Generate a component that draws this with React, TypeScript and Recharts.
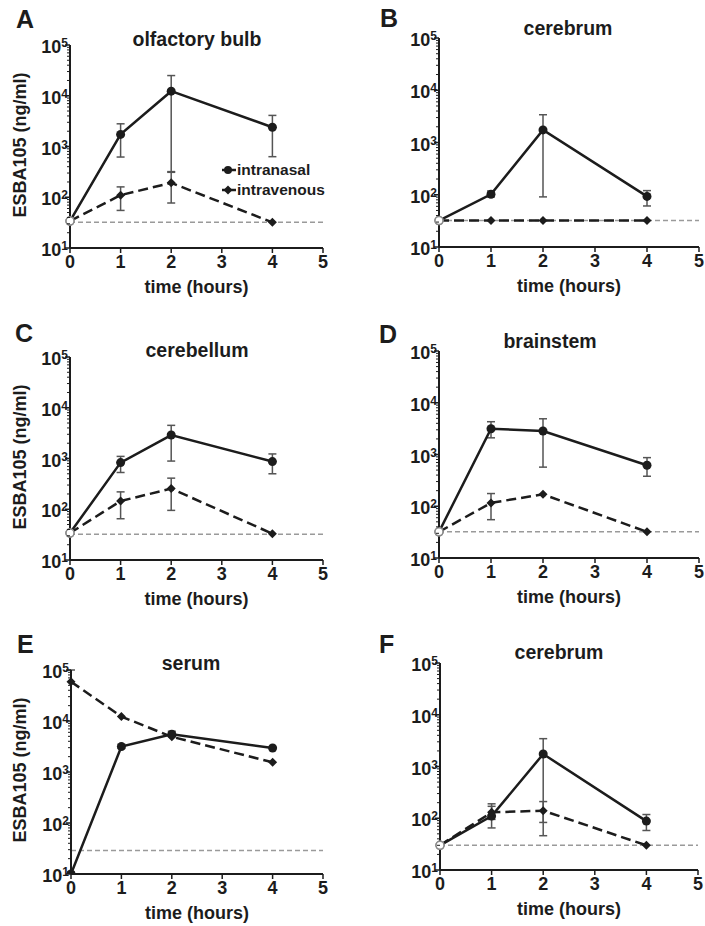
import { LineChart, Line, XAxis, YAxis, ErrorBar, ReferenceLine, Legend } from 'recharts';

const FONT = '"Liberation Sans", Arial, Helvetica, sans-serif';
const INK = '#1c1c1c';

const hours = [0, 1, 2, 4];
const xTicks = [0, 1, 2, 3, 4, 5];
const decades = [10, 100, 1000, 10000, 100000];

// A - olfactory bulb
const bulbNasal = [34, 1730, 12300, 2400];
const bulbNasalLow = [null, 620, 310, 630];
const bulbNasalHigh = [null, 2800, 25000, 4100];
const bulbVenous = [34, 110, 192, 32];
const bulbVenousLow = [null, 55, 77, null];
const bulbVenousHigh = [null, 160, 320, null];

// B - cerebrum
const cerebrumNasal = [32, 102, 1740, 93];
const cerebrumNasalLow = [null, 91, 91, 61];
const cerebrumNasalHigh = [null, 118, 3400, 120];
const cerebrumVenous = [32, 32, 32, 32];
const cerebrumVenousLow = [null, null, null, null];
const cerebrumVenousHigh = [null, null, null, null];

// C - cerebellum
const cerebellumNasal = [34, 830, 2900, 870];
const cerebellumNasalLow = [null, 530, 890, 500];
const cerebellumNasalHigh = [null, 1100, 4500, 1230];
const cerebellumVenous = [34, 145, 255, 33];
const cerebellumVenousLow = [null, 65, 95, null];
const cerebellumVenousHigh = [null, 220, 410, null];

// D - brainstem
const brainstemNasal = [32, 3150, 2850, 620];
const brainstemNasalLow = [null, 2100, 570, 380];
const brainstemNasalHigh = [null, 4300, 4900, 870];
const brainstemVenous = [32, 116, 170, 32];
const brainstemVenousLow = [null, 55, null, null];
const brainstemVenousHigh = [null, 176, null, null];

// E - serum
const serumNasal = [10, 3150, 5500, 2950];
const serumNasalLow = [null, 2900, 5000, null];
const serumNasalHigh = [null, 3500, 6300, null];
const serumVenous = [59000, 12200, 4900, 1550];
const serumVenousLow = [11, null, null, null];
const serumVenousHigh = [100000, null, null, null];

// F - cerebrum (second group)
const cerebrum2Nasal = [30, 110, 1740, 88];
const cerebrum2NasalLow = [null, 65, 83, 58];
const cerebrum2NasalHigh = [null, 190, 3450, 118];
const cerebrum2Venous = [30, 130, 140, 30];
const cerebrum2VenousLow = [null, 95, 46, null];
const cerebrum2VenousHigh = [null, 170, 210, null];

const limits = [32, 32, 32, 32, 29, 30];

const minorTicks: number[] = [];
decades.slice(0, 4).forEach((d) => {
  for (let m = 2; m <= 9; m++) minorTicks.push(d * m);
});
const yTicks = [...decades, ...minorTicks].sort((a, b) => a - b);

type Num = number | null;

function toRows(nasal: number[], nLow: Num[], nHigh: Num[], venous: number[], vLow: Num[], vHigh: Num[]) {
  return hours.map((t, i) => ({
    t,
    nasal: nasal[i],
    venous: venous[i],
    nasalErr: nLow[i] != null ? [nasal[i] - (nLow[i] as number), (nHigh[i] as number) - nasal[i]] : undefined,
    venousErr: vLow[i] != null ? [venous[i] - (vLow[i] as number), (vHigh[i] as number) - venous[i]] : undefined,
  }));
}

const panels = [
  { letter: 'A', title: 'olfactory bulb', rows: toRows(bulbNasal, bulbNasalLow, bulbNasalHigh, bulbVenous, bulbVenousLow, bulbVenousHigh) },
  { letter: 'B', title: 'cerebrum', rows: toRows(cerebrumNasal, cerebrumNasalLow, cerebrumNasalHigh, cerebrumVenous, cerebrumVenousLow, cerebrumVenousHigh) },
  { letter: 'C', title: 'cerebellum', rows: toRows(cerebellumNasal, cerebellumNasalLow, cerebellumNasalHigh, cerebellumVenous, cerebellumVenousLow, cerebellumVenousHigh) },
  { letter: 'D', title: 'brainstem', rows: toRows(brainstemNasal, brainstemNasalLow, brainstemNasalHigh, brainstemVenous, brainstemVenousLow, brainstemVenousHigh) },
  { letter: 'E', title: 'serum', rows: toRows(serumNasal, serumNasalLow, serumNasalHigh, serumVenous, serumVenousLow, serumVenousHigh) },
  { letter: 'F', title: 'cerebrum', rows: toRows(cerebrum2Nasal, cerebrum2NasalLow, cerebrum2NasalHigh, cerebrum2Venous, cerebrum2VenousLow, cerebrum2VenousHigh) },
];

// layout: chart box + plot area edges (page pixels)
const boxes = [
  { left: 0, top: 0, w: 352, h: 310, pl: 70, pr: 323, pt: 45, pb: 248, letterX: 16, letterY: 28, titleX: 197, titleY: 46, yTitle: 145 },
  { left: 352, top: 0, w: 353, h: 310, pl: 439, pr: 699, pt: 38, pb: 247, letterX: 380, letterY: 27, titleX: 568, titleY: 35, yTitle: 0 },
  { left: 0, top: 310, w: 352, h: 310, pl: 70, pr: 323, pt: 357, pb: 560, letterX: 15, letterY: 342, titleX: 197, titleY: 357, yTitle: 457 },
  { left: 352, top: 310, w: 353, h: 310, pl: 439, pr: 699, pt: 351, pb: 558, letterX: 379, letterY: 343, titleX: 550, titleY: 348, yTitle: 0 },
  { left: 0, top: 620, w: 352, h: 306, pl: 71, pr: 323, pt: 670, pb: 874, letterX: 17, letterY: 653, titleX: 191, titleY: 670, yTitle: 770 },
  { left: 352, top: 620, w: 353, h: 306, pl: 440, pr: 698, pt: 663, pb: 870, letterX: 379, letterY: 653, titleX: 559, titleY: 659, yTitle: 0 },
];

function LogTick({ x, y, payload }: any) {
  const v = payload.value;
  const lg = Math.log10(v);
  const exp = Math.round(lg);
  if (Math.abs(lg - exp) > 1e-6) {
    return <line x1={x - 3} x2={x} y1={y} y2={y} stroke={INK} strokeWidth={1} />;
  }
  return (
    <g>
      <line x1={x - 5} x2={x} y1={y} y2={y} stroke={INK} strokeWidth={1.5} />
      <text x={x - 2} y={y + 8} textAnchor="end" fontFamily={FONT} fontWeight="bold" fontSize={18} fill={INK}>
        10<tspan dy={-6} fontSize={12}>{exp}</tspan>
      </text>
    </g>
  );
}

const nasalDot = (lod: number) => (p: any) => {
  const { cx, cy, index, value } = p;
  if (cx == null || cy == null) return <g key={`n${index}`} />;
  if (index === 0 && value > 11 && value <= lod * 1.2) {
    return <circle key={`n${index}`} cx={cx} cy={cy} r={4} fill="#fff" stroke="#888" strokeWidth={1.5} />;
  }
  return <circle key={`n${index}`} cx={cx} cy={cy} r={4.5} fill={INK} />;
};

const venousDot = (lod: number) => (p: any) => {
  const { cx, cy, index, value } = p;
  if (cx == null || cy == null) return <g key={`v${index}`} />;
  if (index === 0 && value <= lod * 1.2) {
    return <circle key={`v${index}`} cx={cx} cy={cy} r={4} fill="#fff" stroke="#888" strokeWidth={1.5} />;
  }
  const s = 4.5;
  return (
    <polygon
      key={`v${index}`}
      points={`${cx},${cy - s} ${cx + s},${cy} ${cx},${cy + s} ${cx - s},${cy}`}
      fill={INK}
    />
  );
};

const LegendBox = () => (
  <div style={{ fontFamily: FONT, fontWeight: 'bold', fontSize: 15.5, color: INK, lineHeight: '20px' }}>
    <div style={{ display: 'flex', alignItems: 'center' }}>
      <svg width={16} height={12}>
        <line x1={1} x2={15} y1={6} y2={6} stroke={INK} strokeWidth={2.5} />
        <circle cx={7} cy={6} r={4} fill={INK} />
      </svg>
      <span>intranasal</span>
    </div>
    <div style={{ display: 'flex', alignItems: 'center' }}>
      <svg width={16} height={12}>
        <line x1={1} x2={15} y1={6} y2={6} stroke={INK} strokeWidth={2.5} />
        <polygon points="7,1.5 11.5,6 7,10.5 2.5,6" fill={INK} />
      </svg>
      <span>intravenous</span>
    </div>
  </div>
);

function Panel({ index }: { index: number }) {
  const p = panels[index];
  const b = boxes[index];
  const lod = limits[index];
  return (
    <div style={{ position: 'absolute', left: b.left, top: b.top, width: b.w, height: b.h }}>
      <LineChart
        width={b.w}
        height={b.h}
        data={p.rows}
        margin={{ top: b.pt - b.top, right: b.left + b.w - b.pr, left: 0, bottom: 0 }}
      >
        <XAxis
          dataKey="t"
          type="number"
          domain={[0, 5]}
          ticks={xTicks}
          interval={0}
          height={b.top + b.h - b.pb}
          axisLine={{ stroke: INK, strokeWidth: 2 }}
          tickLine={{ stroke: INK, strokeWidth: 1.5 }}
          tickSize={5}
          tickMargin={2}
          tick={{ fill: INK, fontSize: 18, fontWeight: 'bold', fontFamily: FONT }}
        />
        <YAxis
          type="number"
          scale="log"
          domain={[10, 100000]}
          allowDataOverflow
          ticks={yTicks}
          interval={0}
          width={b.pl - b.left}
          axisLine={{ stroke: INK, strokeWidth: 2 }}
          tickLine={false}
          tickSize={0}
          tickMargin={0}
          tick={<LogTick />}
        />
        <ReferenceLine y={lod} stroke="#9a9a9a" strokeWidth={1.5} strokeDasharray="5 3" />
        <Line
          dataKey="venous"
          stroke={INK}
          strokeWidth={2.5}
          strokeDasharray="10 5"
          dot={venousDot(lod)}
          isAnimationActive={false}
        >
          <ErrorBar dataKey="venousErr" direction="y" width={4} stroke="#555" strokeWidth={1.5} />
        </Line>
        <Line
          dataKey="nasal"
          stroke={INK}
          strokeWidth={2.5}
          dot={nasalDot(lod)}
          isAnimationActive={false}
        >
          <ErrorBar dataKey="nasalErr" direction="y" width={4} stroke="#555" strokeWidth={1.5} />
        </Line>
        {index === 0 && (
          <Legend
            layout="vertical"
            align="center"
            verticalAlign="middle"
            content={<LegendBox />}
            wrapperStyle={{ left: 221, top: 160, width: 'auto' }}
          />
        )}
      </LineChart>
    </div>
  );
}

export default function App() {
  return (
    <div style={{ position: 'absolute', left: 0, top: 0, width: 705, height: 926, background: '#fff' }}>
      {panels.map((_, i) => (
        <Panel key={i} index={i} />
      ))}
      <svg width={705} height={926} style={{ position: 'absolute', left: 0, top: 0, pointerEvents: 'none' }}>
        {boxes.map((b, i) => (
          <g key={i} fontFamily={FONT} fontWeight="bold" fill={INK}>
            <text x={b.letterX} y={b.letterY} fontSize={25}>{panels[i].letter}</text>
            <text x={b.titleX} y={b.titleY} fontSize={19.5} textAnchor="middle">{panels[i].title}</text>
            <text x={(b.pl + b.pr) / 2} y={b.pb + 45} fontSize={18} textAnchor="middle">time (hours)</text>
            {b.yTitle > 0 && (
              <text
                x={20}
                y={b.yTitle}
                fontSize={18}
                textAnchor="middle"
                dominantBaseline="central"
                transform={`rotate(-90 20 ${b.yTitle})`}
              >
                ESBA105 (ng/ml)
              </text>
            )}
          </g>
        ))}
      </svg>
    </div>
  );
}
